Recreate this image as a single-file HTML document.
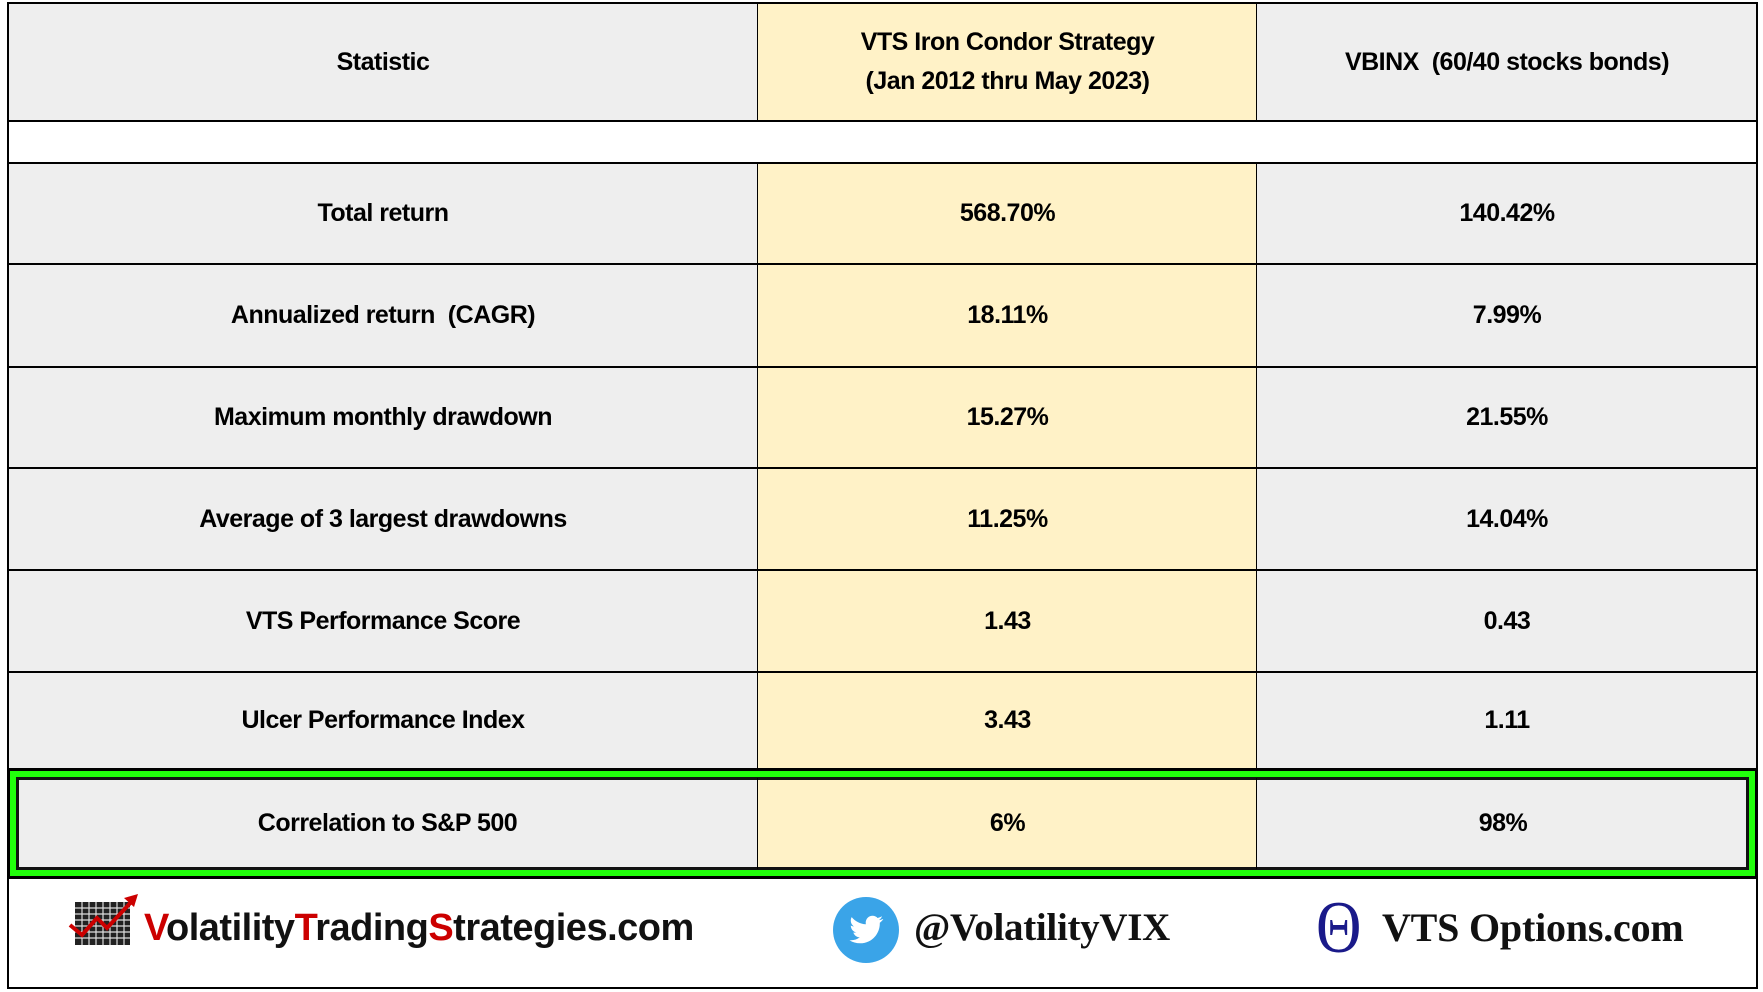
<!DOCTYPE html>
<html><head><meta charset="utf-8">
<style>
body{margin:0;width:1763px;height:992px;background:#fff;position:relative;overflow:hidden;font-family:"Liberation Sans",Arial,sans-serif}
.c{position:absolute;display:flex;align-items:center;justify-content:center;text-align:center;font-weight:bold;font-size:25px;color:#000;box-sizing:border-box;line-height:1.55;letter-spacing:-0.5px;white-space:pre}
.g{background:#eeeeee}.y{background:#fff2c7}
.hl{position:absolute;background:#000;height:2px}
.vl{position:absolute;background:#000;width:2px}
</style></head><body>
<div>
<div class="c g" style="left:8px;top:3px;width:750px;height:118px">Statistic</div>
<div class="c y" style="left:758px;top:3px;width:499px;height:118px">VTS Iron Condor Strategy
(Jan 2012 thru May 2023)</div>
<div class="c g" style="left:1257px;top:3px;width:500px;height:118px">VBINX  (60/40 stocks bonds)</div>
<div id="rows"></div>
</div>
<div>
<svg style="position:absolute;left:66px;top:892px" width="80" height="60" viewBox="66 892 80 60">
<rect x="75" y="902" width="55" height="43" fill="#222"/>
<g stroke="#ddd" stroke-width="1.2">
<line x1="82" y1="902" x2="82" y2="945"/><line x1="89" y1="902" x2="89" y2="945"/><line x1="96" y1="902" x2="96" y2="945"/><line x1="103" y1="902" x2="103" y2="945"/><line x1="110" y1="902" x2="110" y2="945"/><line x1="117" y1="902" x2="117" y2="945"/><line x1="124" y1="902" x2="124" y2="945"/>
<line x1="75" y1="908" x2="130" y2="908"/><line x1="75" y1="914" x2="130" y2="914"/><line x1="75" y1="920" x2="130" y2="920"/><line x1="75" y1="926" x2="130" y2="926"/><line x1="75" y1="932" x2="130" y2="932"/><line x1="75" y1="938" x2="130" y2="938"/></g>
<polyline points="70,925 82,935 97,918 107,928 133,900" fill="none" stroke="#c00" stroke-width="4"/>
<polygon points="138,894 124,898 134,907" fill="#c00"/>
</svg>
<div style="position:absolute;left:144px;top:906px;font-size:38px;font-weight:bold;letter-spacing:-0.5px;line-height:44px;color:#111"><span style="color:#c00">V</span>olatility<span style="color:#c00">T</span>rading<span style="color:#c00">S</span>trategies.com</div>
<svg style="position:absolute;left:833px;top:897px" width="66" height="66" viewBox="0 0 66 66">
<circle cx="33" cy="33" r="33" fill="#3aa4e8"/>
<path d="M50 22c-1.3.6-2.6 1-4 1.1 1.4-.9 2.5-2.2 3-3.8-1.3.8-2.8 1.4-4.4 1.7-1.3-1.4-3.1-2.2-5-2.2-3.8 0-6.9 3.1-6.9 6.9 0 .5.1 1.1.2 1.6-5.7-.3-10.8-3-14.2-7.2-.6 1-.9 2.200-.9 3.5 0 2.4 1.2 4.5 3.1 5.8-1.1 0-2.2-.4-3.1-.9v.1c0 3.4 2.4 6.2 5.6 6.8-.6.2-1.2.2-1.8.2-.4 0-.9 0-1.3-.1.9 2.8 3.5 4.8 6.5 4.8-2.4 1.9-5.4 3-8.6 3-.6 0-1.1 0-1.7-.1 3.1 2 6.7 3.1 10.6 3.1 12.700 0 19.7-10.5 19.7-19.7v-.9c1.3-1 2.5-2.2 3.4-3.5z" fill="#fff"/>
</svg>
<div style="position:absolute;left:914px;top:906px;font-family:'Liberation Serif',serif;font-size:39px;font-weight:bold;line-height:44px;color:#111;letter-spacing:-0.3px">@VolatilityVIX</div>
<div style="position:absolute;left:1316px;top:888px;font-family:'Liberation Serif',serif;font-size:74px;line-height:80px;color:#1a1a8a;transform:scaleX(0.85);transform-origin:left">Θ</div>
<div style="position:absolute;left:1382px;top:906px;font-family:'Liberation Serif',serif;font-size:40px;font-weight:bold;line-height:44px;color:#111;letter-spacing:-0.2px">VTS Options.com</div>
</div>
<script>
const statNames=["Total return","Annualized return  (CAGR)","Maximum monthly drawdown","Average of 3 largest drawdowns","VTS Performance Score","Ulcer Performance Index","Correlation to S&P 500"];
const vtsValues=["568.70%","18.11%","15.27%","11.25%","1.43","3.43","6%"];
const vbinxValues=["140.42%","7.99%","21.55%","14.04%","0.43","1.11","98%"];
const rowTops=[163,264,367,468,570,672,778];
const rowBots=[264,367,468,570,672,769,869];
const R=document.getElementById('rows');
function cell(cls,x,w,t,h,txt,name){const d=document.createElement('div');d.className='c '+cls;


d.style.cssText=`left:${x}px;top:${t}px;width:${w}px;height:${h}px`;d.textContent=txt;R.appendChild(d);}
function line(cls,css,name){const d=document.createElement('div');d.className=cls;


d.style.cssText=css;R.appendChild(d);}
statNames.forEach((s,i)=>{const t=rowTops[i],h=rowBots[i]-t;const last=i===6;
const x0=last?17:8,x3=last?1749:1757;
cell('g',x0,758-x0,t,h,s,'stat-label-'+i);
cell('y',758,499,t,h,vtsValues[i],'vts-value-'+i);
cell('g',1257,x3-1257,t,h,vbinxValues[i],'vbinx-value-'+i);});
const gb=document.createElement('div');


gb.style.cssText='position:absolute;left:7px;top:768px;width:1751px;height:111px;box-sizing:border-box;border:3px solid #000;background:transparent';R.appendChild(gb);
const gi=document.createElement('div');


gi.style.cssText='position:absolute;left:10px;top:771px;width:1745px;height:105px;box-sizing:border-box;border:7px solid #22ff0c';R.appendChild(gi);
const gn=document.createElement('div');


gn.style.cssText='position:absolute;left:16px;top:777px;width:1733px;height:93px;box-sizing:border-box;border:3px solid #111';R.appendChild(gn);
[3,121,163,264,367,468,570,672].forEach((y,i)=>line('hl',`left:7px;width:1751px;top:${y-1}px`,'row-line-'+i));
line('hl','left:7px;width:1751px;top:987px','footer-bottom-line');
line('vl','left:7px;top:3px;height:766px','left-border');
line('vl','left:1756px;top:3px;height:766px','right-border');
line('vl','left:7px;top:877px;height:112px','footer-left-border');
line('vl','left:1756px;top:877px;height:112px','footer-right-border');
line('vl','left:757px;top:3px;height:118px;width:1px','col-line-1');
line('vl','left:1256px;top:3px;height:118px;width:1px','col-line-2');
line('vl','left:757px;top:163px;height:606px;width:1px','col-line-1b');
line('vl','left:1256px;top:163px;height:606px;width:1px','col-line-2b');
line('vl','left:757px;top:778px;height:91px;width:1px','col-line-1c');
line('vl','left:1256px;top:778px;height:91px;width:1px','col-line-2c');
</script>
</body></html>
